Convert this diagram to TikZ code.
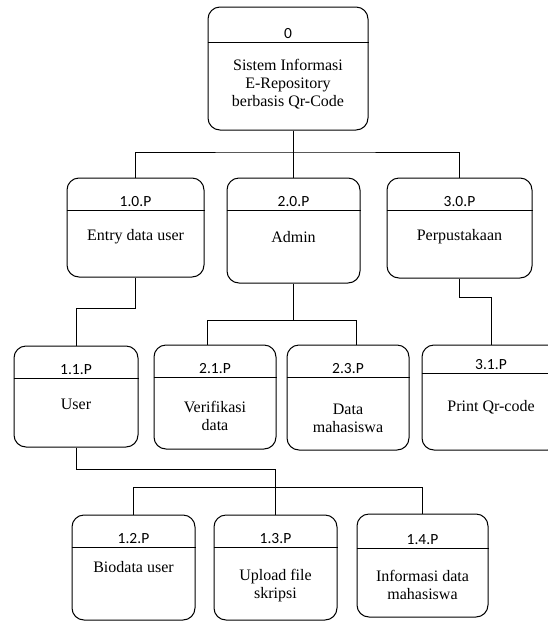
\documentclass[tikz,border=0pt]{standalone}
\usepackage{fontspec}
\setmainfont{Liberation Serif}
\newfontfamily\idfont{Carlito}
\usetikzlibrary{positioning,fit}

\begin{document}
\begin{tikzpicture}[x=1pt, y=-1pt, line width=1pt]
    \tikzstyle{proc} = [rectangle, draw, rounded corners=12pt, inner sep=0pt]
    \tikzstyle{idtext} = [anchor=base, font=\idfont\fontsize{15.5}{17}\selectfont]
    \tikzstyle{body} = [align=center, font=\fontsize{16}{18}\selectfont]
    \tikzstyle{line} = [draw]

    \useasboundingbox (0,0) rectangle (548,622);
    \clip (0,0) rectangle (548,622);

    % process boxes: name / corners / header line / number / text
    \foreach \nm/\xa/\ya/\xb/\yb/\hy/\pid/\by/\txt in {
        sistem/208/7/368/130/42/0/84/{Sistem Informasi\\E-Repository\\berbasis Qr-Code},
        entry/67/178/204/277/210/1.0.P/237/{Entry data user},
        admin/227/178/360/283/210/2.0.P/237/{Admin},
        perpus/387/178/532/278/210/3.0.P/237/{Perpustakaan},
        user/14/346/138/447/378/1.1.P/404/{User},
        verif/154/345/276/449/377/2.1.P/416/{Verifikasi\\data},
        datamhs/287/345/409/450/377/2.3.P/418/{Data\\mahasiswa},
        print/422/345/560/450/373/3.1.P/407/{Print Qr-code},
        biodata/72/515/195/620/547/1.2.P/567/{Biodata user},
        upload/214/515/337/620/547/1.3.P/586/{Upload file\\skripsi},
        info/357/514/488/617/548/1.4.P/585/{Informasi data\\mahasiswa}} {
        \node [proc, fit={(\xa,\ya) (\xb,\yb)}] (\nm) {};
        \draw (\nm.west |- 0,\hy) -- (\nm.east |- 0,\hy);
        \node [idtext] at ({(\xa+\xb)/2},\hy-4) {\pid};
        \node [body] at ({(\xa+\xb)/2},\by) {\txt};
    }

    \coordinate (bus) at (0,152);
    \path [line] (sistem.south -| admin.north) -- (admin.north);
    \path [line] (entry.north) |- (bus -| admin.north) -| (perpus.north);

    \path [line] (entry.south) -- ++(0,31) -| (user.north);
    \path [line] (admin.south) -- ++(0,37) coordinate (j2);
    \path [line] ([xshift=-8pt]verif.north) |- (j2) -| ([xshift=8pt]datamhs.north);
    \path [line] (perpus.south) -- ++(0,19) -| (print.north);

    \path [line] (user.south) -- ++(0,22) -| (upload.north);
    \path [line] (biodata.north) -- ++(0,-27) -| (info.north);
\end{tikzpicture}
\end{document}
